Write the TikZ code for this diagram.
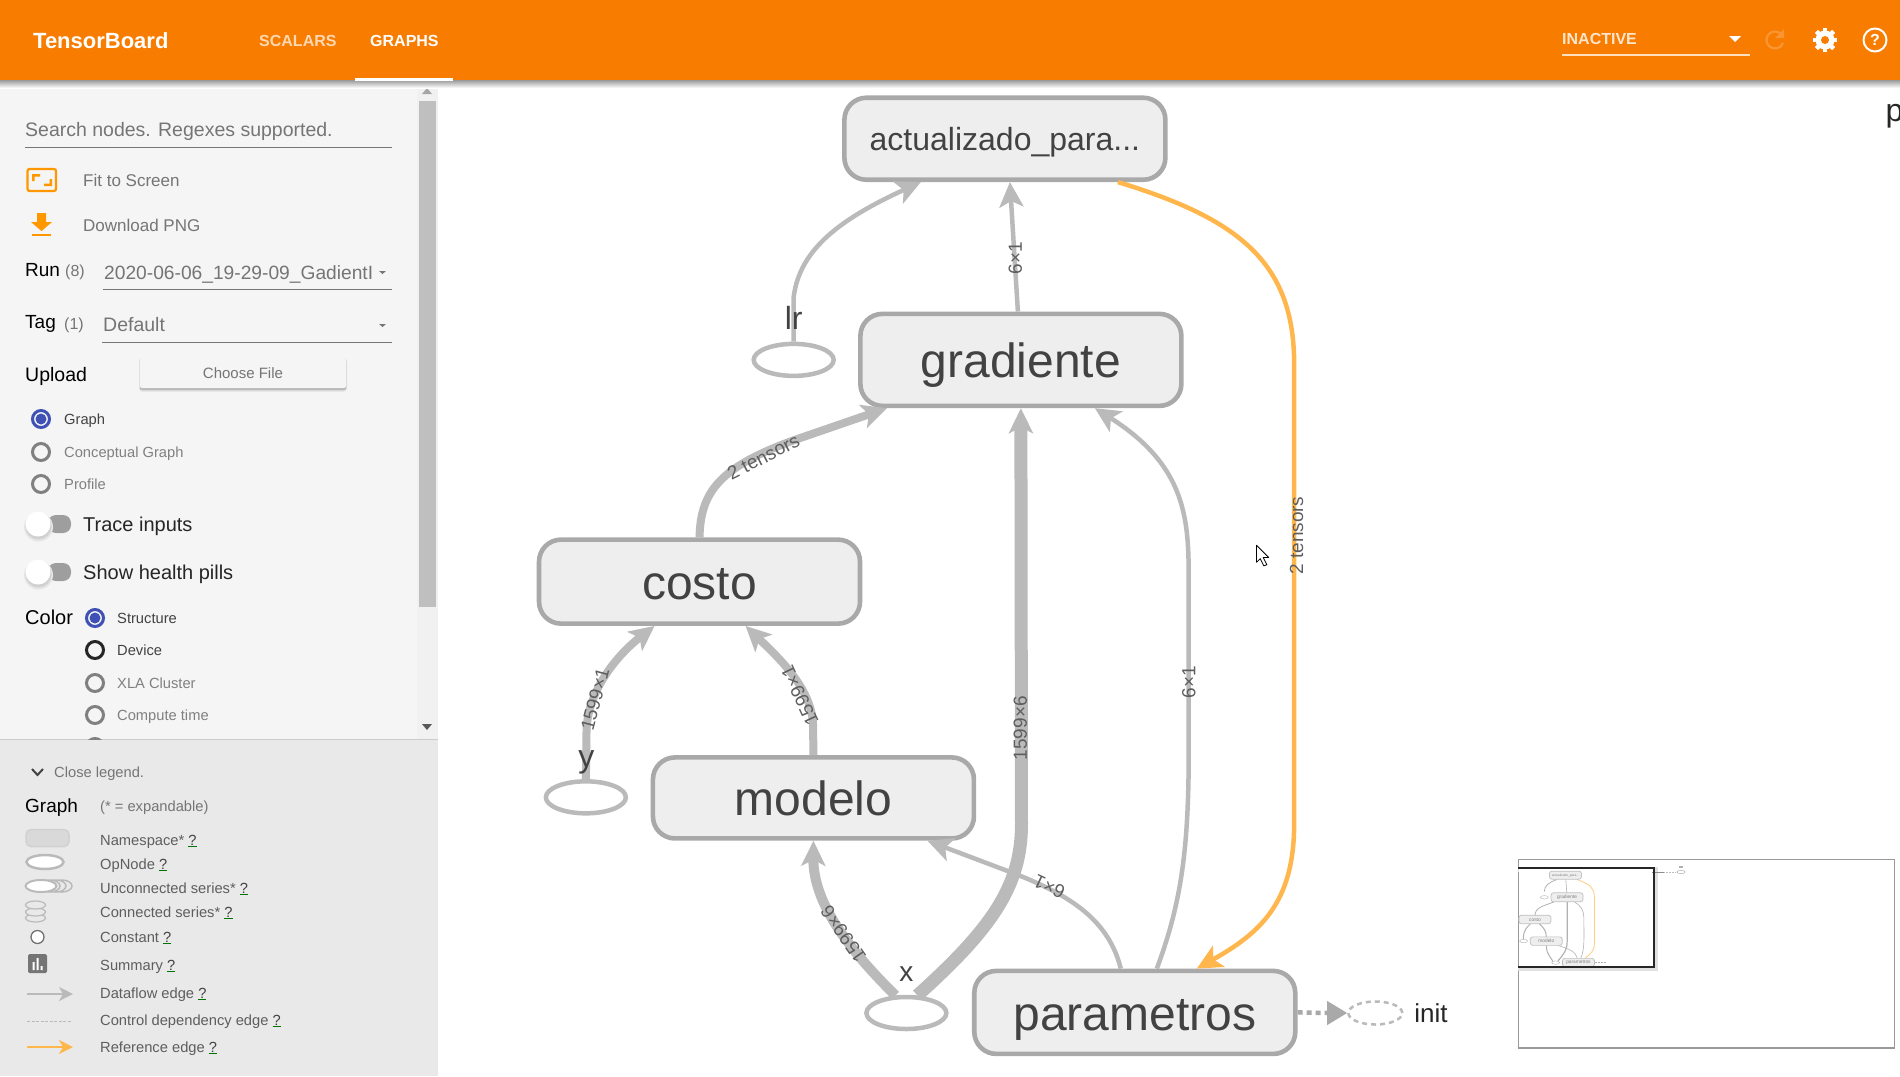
\documentclass[tikz,border=0pt]{standalone}
\usepackage{fontspec}
\setmainfont{Liberation Sans}
\usetikzlibrary{arrows.meta,shapes.geometric,calc}
\definecolor{tbor}{HTML}{F77C00}
\definecolor{iconor}{HTML}{FF9800}
\definecolor{sidebg}{HTML}{F5F5F5}
\definecolor{legbg}{HTML}{E9E9E9}
\definecolor{txg}{HTML}{757575}
\definecolor{txd}{HTML}{424242}
\definecolor{edgeg}{HTML}{BABABA}
\definecolor{boxst}{HTML}{A9A9A9}
\definecolor{boxfl}{HTML}{EEEEEE}
\definecolor{refor}{HTML}{FFB74D}
\definecolor{blue1}{HTML}{3F51B5}
\newcommand\fsz[1]{\fontsize{#1}{#1}\selectfont}
\newcommand\ui[6]{\node[anchor=base west,inner sep=0pt,text=#4,font=\fsz{#3}] (#5) at ({#1},{#2+0.35*#3}) {#6};}
\newcommand\qm{\textcolor{green!45!black}{\underline{\textcolor{txd}{?}}}}
\newcommand\radio[4]{%
  \node[circle,draw=#3,line width=3pt,fill=none,minimum size=17pt,inner sep=0pt] (#4) at (#1,#2) {};}
\newcommand\radiodot[3]{%
  \node[circle,draw=blue1,line width=3pt,fill=none,minimum size=17pt,inner sep=0pt] (#3) at (#1,#2) {};
  \fill[blue1] (#1,#2) circle (5.5pt);}
\newcommand\toggle[2]{%
  \fill[rounded corners=8pt,black!38] (48,#1-9) rectangle (71,#1+9);
  \fill[black!10] (38.5,#1+3) circle (14.5pt);
  \fill[black!18] (38.5,#1+2.5) circle (13pt);
  \node[circle,fill=white,minimum size=25pt,inner sep=0pt] (#2) at (38,#1) {};}
\tikzset{
  nsbox/.style={draw=boxst,fill=boxfl,line width=4.6pt,rounded corners=22pt,inner sep=0pt,text=txd,font=\fsz{48},text height=36pt,text depth=0pt},
  opnode/.style={ellipse,draw=edgeg,fill=white,line width=4.5pt,inner sep=0pt,minimum width=80pt,minimum height=32pt},
  oplabel/.style={inner sep=0pt,text=txd,font=\fsz{32}},
  elabel/.style={inner sep=0pt,text=txd!85,font=\fsz{19}},
  flow/.style={draw=edgeg,line width=#1},
  tipa/.style={-{Stealth[length=25pt,width=24pt,inset=6pt]}},
  refflow/.style={draw=refor,line width=4.5pt,-{Stealth[length=25pt,width=24pt,inset=6pt]}},
  mbox/.style={draw=black!25,fill=boxfl,line width=.7pt,rounded corners=2.5pt,inner sep=0pt},
  medge/.style={draw=black!30,line width=#1},
}
\begin{document}
\begin{tikzpicture}[x=1pt,y=-1pt]
\useasboundingbox (0,0) rectangle (1900,1076);
\fill[white] (0,0) rectangle (1900,1076);
% sidebar
\fill[sidebg] (0,80) rectangle (438,739);
\fill[black!5.5] (417,85) rectangle (438,739);
\fill[black!25] (419,101) rectangle (436,607);
\fill[legbg] (0,740) rectangle (438,1076);
\draw[black!20,line width=1pt] (0,739.5) -- (438,739.5);
\fill[black!35] (422,94) -- (432,94) -- (427,88) -- cycle;
\fill[black!65] (422,724) -- (432,724) -- (427,730) -- cycle;
% header
\shade[top color=black!40,bottom color=white] (0,80) rectangle (1900,88);
\fill[tbor] (0,0) rectangle (1900,80);
\node[anchor=base west,inner sep=0pt,text=white,font=\fsz{22}\bfseries] (tbtitle) at (33,48) {TensorBoard};
\node[anchor=base west,inner sep=0pt,text=white!70!tbor,font=\fsz{16}\bfseries] (tabscal) at (259,46) {SCALARS};
\node[anchor=base west,inner sep=0pt,text=white,font=\fsz{16}\bfseries] (tabgraph) at (370,46) {GRAPHS};
\fill[white] (355,78) rectangle (453,81);
\node[anchor=base west,inner sep=0pt,text=white!80!tbor,font=\fsz{16}\bfseries] (inact) at (1562,44) {INACTIVE};
\fill[white] (1729,36) -- (1741,36) -- (1735,42) -- cycle;
\draw[white!75!tbor,line width=1.3pt] (1562,55) -- (1750,55);
% refresh icon
\draw[white!20!tbor,line width=2.2pt] (1781,34) arc (45:340:8.5pt);
\fill[white!20!tbor] (1784,29) -- (1784,38) -- (1775,38) -- cycle;
% gear
\foreach \a in {0,45,...,315}{\draw[white,line width=4.5pt] (1825,40) -- ++(\a:12.2pt);}
\fill[white] (1825,40) circle (9.5pt);
\fill[tbor] (1825,40) circle (4pt);
% help
\node[circle,draw=white,line width=2pt,minimum size=23pt,inner sep=0pt,text=white,font=\fsz{16}\bfseries] (helpic) at (1875,40) {?};
% controls
\ui{25}{130}{19.5}{txg}{search}{Search nodes. Regexes supported.}
\draw[txg,line width=1pt] (25,147) -- (392,147);
% fit icon
\draw[iconor,line width=2.2pt,rounded corners=2pt] (27.5,169) rectangle (56,191);
\fill[iconor] (32,174) rectangle (40,176.5) (32,174) rectangle (34.5,181);
\fill[iconor] (52,186) rectangle (44,183.5) (52,186) rectangle (49.5,179);
\ui{83}{181}{17}{txg}{fit}{Fit to Screen}
% download icon
\fill[iconor] (37,213) rectangle (46,222) (31,222) -- (52,222) -- (41.5,231) -- cycle;
\fill[iconor] (32,233.5) rectangle (51,236);
\ui{83}{226}{17}{txg}{dl}{Download PNG}
\ui{25}{270}{19}{black}{runl}{Run}
\ui{65}{271}{16}{txg}{runn}{(8)}
\ui{104}{273}{19.2}{txg}{runv}{2020-06-06\_19-29-09\_GadientI}
\fill[txg] (379,271) -- (386,271) -- (382.5,274) -- cycle;
\draw[txg,line width=1pt] (103,289.5) -- (392,289.5);
\ui{25}{322}{19}{black}{tagl}{Tag}
\ui{64}{324}{16}{txg}{tagn}{(1)}
\ui{103}{325}{19.5}{txg}{tagv}{Default}
\fill[txg] (379,324) -- (386,324) -- (382.5,327) -- cycle;
\draw[txg,line width=1pt] (102,342.5) -- (392,342.5);
\ui{25}{375}{19.5}{black}{upl}{Upload}
\fill[black!12,rounded corners=3pt] (139,358) rectangle (347,391.5);
\fill[black!28,rounded corners=2pt] (140,360) rectangle (346,390);
\node[fill=sidebg,rounded corners=2pt,minimum width=206pt,minimum height=30pt,inner sep=0pt,text=txg,font=\fsz{15}] (choose) at (243,373) {Choose File};
% view radios
\radiodot{41}{419}{rgraph}
\ui{64}{419}{14.7}{txd}{tgraph}{Graph}
\radio{41}{452}{black!50}{rconc}
\ui{64}{452}{14.7}{black!50}{tconc}{Conceptual Graph}
\radio{41}{484}{black!50}{rprof}
\ui{64}{484}{14.7}{black!50}{tprof}{Profile}
\toggle{524}{tg1}
\ui{83}{524}{20}{black!85}{ttrace}{Trace inputs}
\toggle{572}{tg2}
\ui{83}{572}{20}{black!85}{thealth}{Show health pills}
\ui{25}{617}{20}{black}{colorl}{Color}
\radiodot{95}{618}{rstruct}
\ui{117}{618}{14.7}{txd}{tstruct}{Structure}
\radio{95}{650}{black!85}{rdev}
\ui{117}{650}{14.7}{txd}{tdev}{Device}
\radio{95}{683}{black!50}{rxla}
\ui{117}{683}{14.7}{black!50}{txla}{XLA Cluster}
\radio{95}{715}{black!50}{rcomp}
\ui{117}{715}{14.7}{black!50}{tcomp}{Compute time}
\begin{scope}
\clip (80,735) rectangle (110,739);
\radio{95}{747}{black!50}{rnext}
\end{scope}
% legend
\draw[txd,line width=2pt] (32,769) -- (37.5,775) -- (43,769);
\ui{54}{772}{14.7}{txg}{closel}{Close legend.}
\ui{25}{806}{19}{black}{gl}{Graph}
\ui{100}{806}{14.7}{txg}{exp}{(* = expandable)}
\node[draw=black!18,fill=black!15,line width=1.5pt,rounded corners=5pt,minimum width=43pt,minimum height=17pt,inner sep=0pt] (lgns) at (47.5,838) {};
\ui{100}{840}{14.7}{txd!85}{tns}{Namespace* \qm}
\node[ellipse,draw=edgeg,fill=white,line width=2.5pt,minimum width=37pt,minimum height=14pt,inner sep=0pt] (lgop) at (45,862) {};
\ui{100}{864}{14.7}{txd!85}{top}{OpNode \qm}
\foreach \c in {62,56,50}{\draw[edgeg,line width=1.5pt,fill=legbg] (\c,886) ellipse (10pt and 6pt);}
\node[ellipse,draw=edgeg,fill=white,line width=2pt,minimum width=31pt,minimum height=12pt,inner sep=0pt] (lgun) at (41,886) {};
\ui{100}{888}{14.7}{txd!85}{tun}{Unconnected series* \qm}
\foreach \c in {918,912,905}{\draw[edgeg,line width=1.2pt,fill=legbg] (35.5,\c) ellipse (10pt and 4pt);}
\ui{100}{912}{14.7}{txd!85}{tcs}{Connected series* \qm}
\node[circle,draw=black!55,fill=white,line width=1.3pt,minimum size=13pt,inner sep=0pt] (lgcons) at (37.5,937) {};
\ui{100}{937}{14.7}{txd!85}{tco}{Constant \qm}
\fill[txg,rounded corners=1.5pt] (28,954) rectangle (47,973);
\fill[white] (32.5,962) rectangle (34.5,970) (36.5,958) rectangle (38.5,970) (40.5,966) rectangle (42.5,970);
\ui{100}{965}{14.7}{txd!85}{tsu}{Summary \qm}
\coordinate (lga1) at (27,994); \coordinate (lga2) at (73,994);
\draw[edgeg,line width=1.5pt,-{Stealth[length=14pt,width=14pt,inset=4pt]}] (lga1) -- (lga2);
\ui{100}{993}{14.7}{txd!85}{tdf}{Dataflow edge \qm}
\coordinate (lgb1) at (27,1021); \coordinate (lgb2) at (72,1021);
\draw[edgeg,line width=1pt,dash pattern=on 3pt off 1.5pt] (lgb1) -- (lgb2);
\ui{100}{1020}{14.7}{txd!85}{tcd}{Control dependency edge \qm}
\coordinate (lgc1) at (27,1047); \coordinate (lgc2) at (73,1047);
\draw[refor,line width=1.5pt,-{Stealth[length=14pt,width=14pt,inset=4pt]}] (lgc1) -- (lgc2);
\ui{100}{1047}{14.7}{txd!85}{trf}{Reference edge \qm}
% minimap
\draw[black!40,line width=1.2pt] (1518.5,859.5) rectangle (1894.5,1048);
\draw[black!12,line width=5pt] (1518,869) -- (1655,869) -- (1655,968) -- (1518,968);
\fill[white] (1519,868) rectangle (1654,966);
\begin{scope}[shift={(1465,861.3)},x=0.121173pt,y=-0.121173pt]
\draw[medge=.8pt] (655,250) .. controls (655,200) and (690,175) .. (760,150);
\draw[medge=.6pt] (840,258) -- (832,150);
\draw[medge=.8pt] (578,444) .. controls (578,385) and (640,370) .. (732,336);
\draw[medge=1pt] (482,640) .. controls (480,570) and (510,545) .. (540,516);
\draw[medge=1pt] (671,625) .. controls (671,575) and (650,550) .. (615,516);
\draw[medge=1pt] (725,825) .. controls (690,770) and (668,745) .. (672,695);
\draw[medge=1.2pt] (765,825) .. controls (815,765) and (843,735) .. (843,660) -- (843,336);
\draw[medge=.6pt] (955,800) .. controls (990,720) and (981,620) .. (981,480) .. controls (981,400) and (960,370) .. (905,337);
\draw[medge=.6pt] (925,800) .. controls (910,740) and (860,725) .. (765,693);
\draw[refor!70,line width=.8pt] (925,150) .. controls (1030,190) and (1068,215) .. (1068,300) -- (1068,680) .. controls (1068,740) and (1030,770) .. (990,800);
\node[mbox,minimum width=32pt,minimum height=8pt,text=black!50,font=\fsz{3.2}] (mact) at (829,114.5) {actualizado\_para...};
\node[mbox,minimum width=32pt,minimum height=9pt,text=black!50,font=\fsz{4.8}] (mgrad) at (842,297) {gradiente};
\node[mbox,minimum width=32pt,minimum height=8.5pt,text=black!50,font=\fsz{4.8}] (mcost) at (577,480) {costo};
\node[mbox,minimum width=32pt,minimum height=8.5pt,text=black!50,font=\fsz{4.8}] (mmod) at (671,658.5) {modelo};
\node[mbox,minimum width=32pt,minimum height=8.5pt,text=black!50,font=\fsz{4.8}] (mpar) at (936,836) {parametros};
\draw[black!30,fill=white,line width=.4pt] (655,297) ellipse (4pt and 1.7pt);
\draw[black!30,fill=white,line width=.4pt] (483,658) ellipse (4pt and 1.7pt);
\draw[black!30,fill=white,line width=.4pt] (748,836) ellipse (4pt and 1.7pt);
\draw[black!30,line width=.5pt,densely dotted] (1070,836) -- (1160,836);
\end{scope}
\draw[black!45,line width=.5pt] (1652,872) -- (1664,872);
\draw[black!25,line width=.5pt,densely dotted] (1664,872) -- (1676,872);
\draw[black!35,fill=white,line width=.4pt] (1681,872) ellipse (4pt and 1.7pt);
\fill[black!30] (1679,866) rectangle (1683,868);
\draw[black!85,line width=2pt] (1518,867.5) -- (1654,867.5) -- (1654,966.5) -- (1518,966.5);
% main graph
\begin{scope}[x=1.21173pt,y=-1.21173pt]
\node[nsbox,minimum width=321pt,minimum height=82pt,font=\fsz{32},text height=24pt] (act) at (829.3,114.5) {actualizado\_para...};
\node[nsbox,minimum width=321pt,minimum height=92pt] (grad) at (842.5,297) {gradiente};
\node[nsbox,minimum width=321pt,minimum height=84pt] (cost) at (577.3,480) {costo};
\node[nsbox,minimum width=321pt,minimum height=81pt] (mode) at (671.3,658.5) {modelo};
\node[nsbox,minimum width=321pt,minimum height=83pt] (para) at (936.5,835.5) {parametros};
\node[opnode] (lrop) at (655,297) {};
\node[opnode] (yop) at (483.5,658) {};
\node[opnode] (xop) at (748,836) {};
\node[ellipse,draw=edgeg,fill=white,line width=2.5pt,dash pattern=on 5pt off 4pt,inner sep=0pt,minimum width=54pt,minimum height=23pt] (initop) at (1135,836) {};
\node[inner sep=0pt,text=black!85,font=\fsz{26}] (initlab) at (1181,836) {init};
\node[inner sep=0pt,anchor=west,text=black!85,font=\fsz{32}] (plab) at (1556,96) {p};
% edges
\draw[flow=4.5pt,tipa] (lrop.north) -- (655,245) .. controls (660,205) and (695,180) .. ([xshift=-84pt]act.south);
\draw[flow=4.5pt,tipa] ([xshift=-3pt]grad.north) -- ([xshift=5pt]act.south);
\draw[flow=8pt,tipa] (cost.north) .. controls (578,405) and (595,385) .. (656,363) -- ([xshift=-134pt]grad.south);
\draw[flow=8pt,tipa] (yop.north) -- (484,605) .. controls (484,570) and (510,540) .. ([xshift=-45pt]cost.south);
\draw[flow=8pt,tipa] (mode.north) -- (671,600) .. controls (671,570) and (645,545) .. ([xshift=46pt]cost.south);
\draw[flow=10pt,tipa] (xop.122) .. controls (700,783) and (671,745) .. (mode.south);
\draw[flow=13pt,tipa] (xop.58) .. controls (820,765) and (843,730) .. (843,680) -- (grad.south);
\draw[flow=4.5pt,tipa] ([xshift=22pt]para.north) .. controls (975,745) and (981,700) .. (981,620) -- (981,480) .. controls (981,430) and (980,385) .. ([xshift=74pt]grad.south);
\draw[flow=4.5pt,tipa] ([xshift=-14pt]para.north) .. controls (915,760) and (885,740) .. (840,722) -- ([xshift=114pt]mode.south);
\draw[refflow] ([xshift=113pt]act.south) .. controls (1020,180) and (1068,215) .. (1068,300) -- (1068,680) .. controls (1068,745) and (1040,770) .. ([xshift=62pt]para.north);
\coordinate (dtip) at (1097,836);
\draw[draw=boxst,line width=4.5pt,dash pattern=on 5pt off 4pt] (para.east) -- (dtip);
\draw[boxst,line width=1pt,-{Triangle[length=20pt,width=24pt,fill=boxst]}] (dtip) -- (initop.west);
% op labels
\node[oplabel] (lrlab) at (655,262) {lr};
\node[oplabel] (ylab) at (484,629) {y};
\node[oplabel,font=\fsz{28}] (xlab) at (748,804) {x};
% edge labels
\node[elabel,rotate=90] (l1) at (838,213) {6×1};
\node[elabel,rotate=27] (l2) at (630,377) {2 tensors};
\node[elabel,rotate=75] (l3) at (491,577) {1599×1};
\node[elabel,rotate=115] (l4) at (660,574) {1599×1};
\node[elabel,rotate=125] (l5) at (696,771) {1599×6};
\node[elabel,rotate=90] (l6) at (842,601) {1599×6};
\node[elabel,rotate=90] (l7) at (981,563) {6×1};
\node[elabel,rotate=155] (l8) at (866,732) {6×1};
\node[elabel,rotate=90] (l9) at (1070,442) {2 tensors};
% cursor
\draw[black,fill=white,line width=.8pt,line join=round] (1037,450) -- (1037,464) -- (1040,461) -- (1043,467) -- (1045.5,466) -- (1042.5,460) -- (1047,460) -- cycle;
\end{scope}
\end{tikzpicture}
\end{document}
